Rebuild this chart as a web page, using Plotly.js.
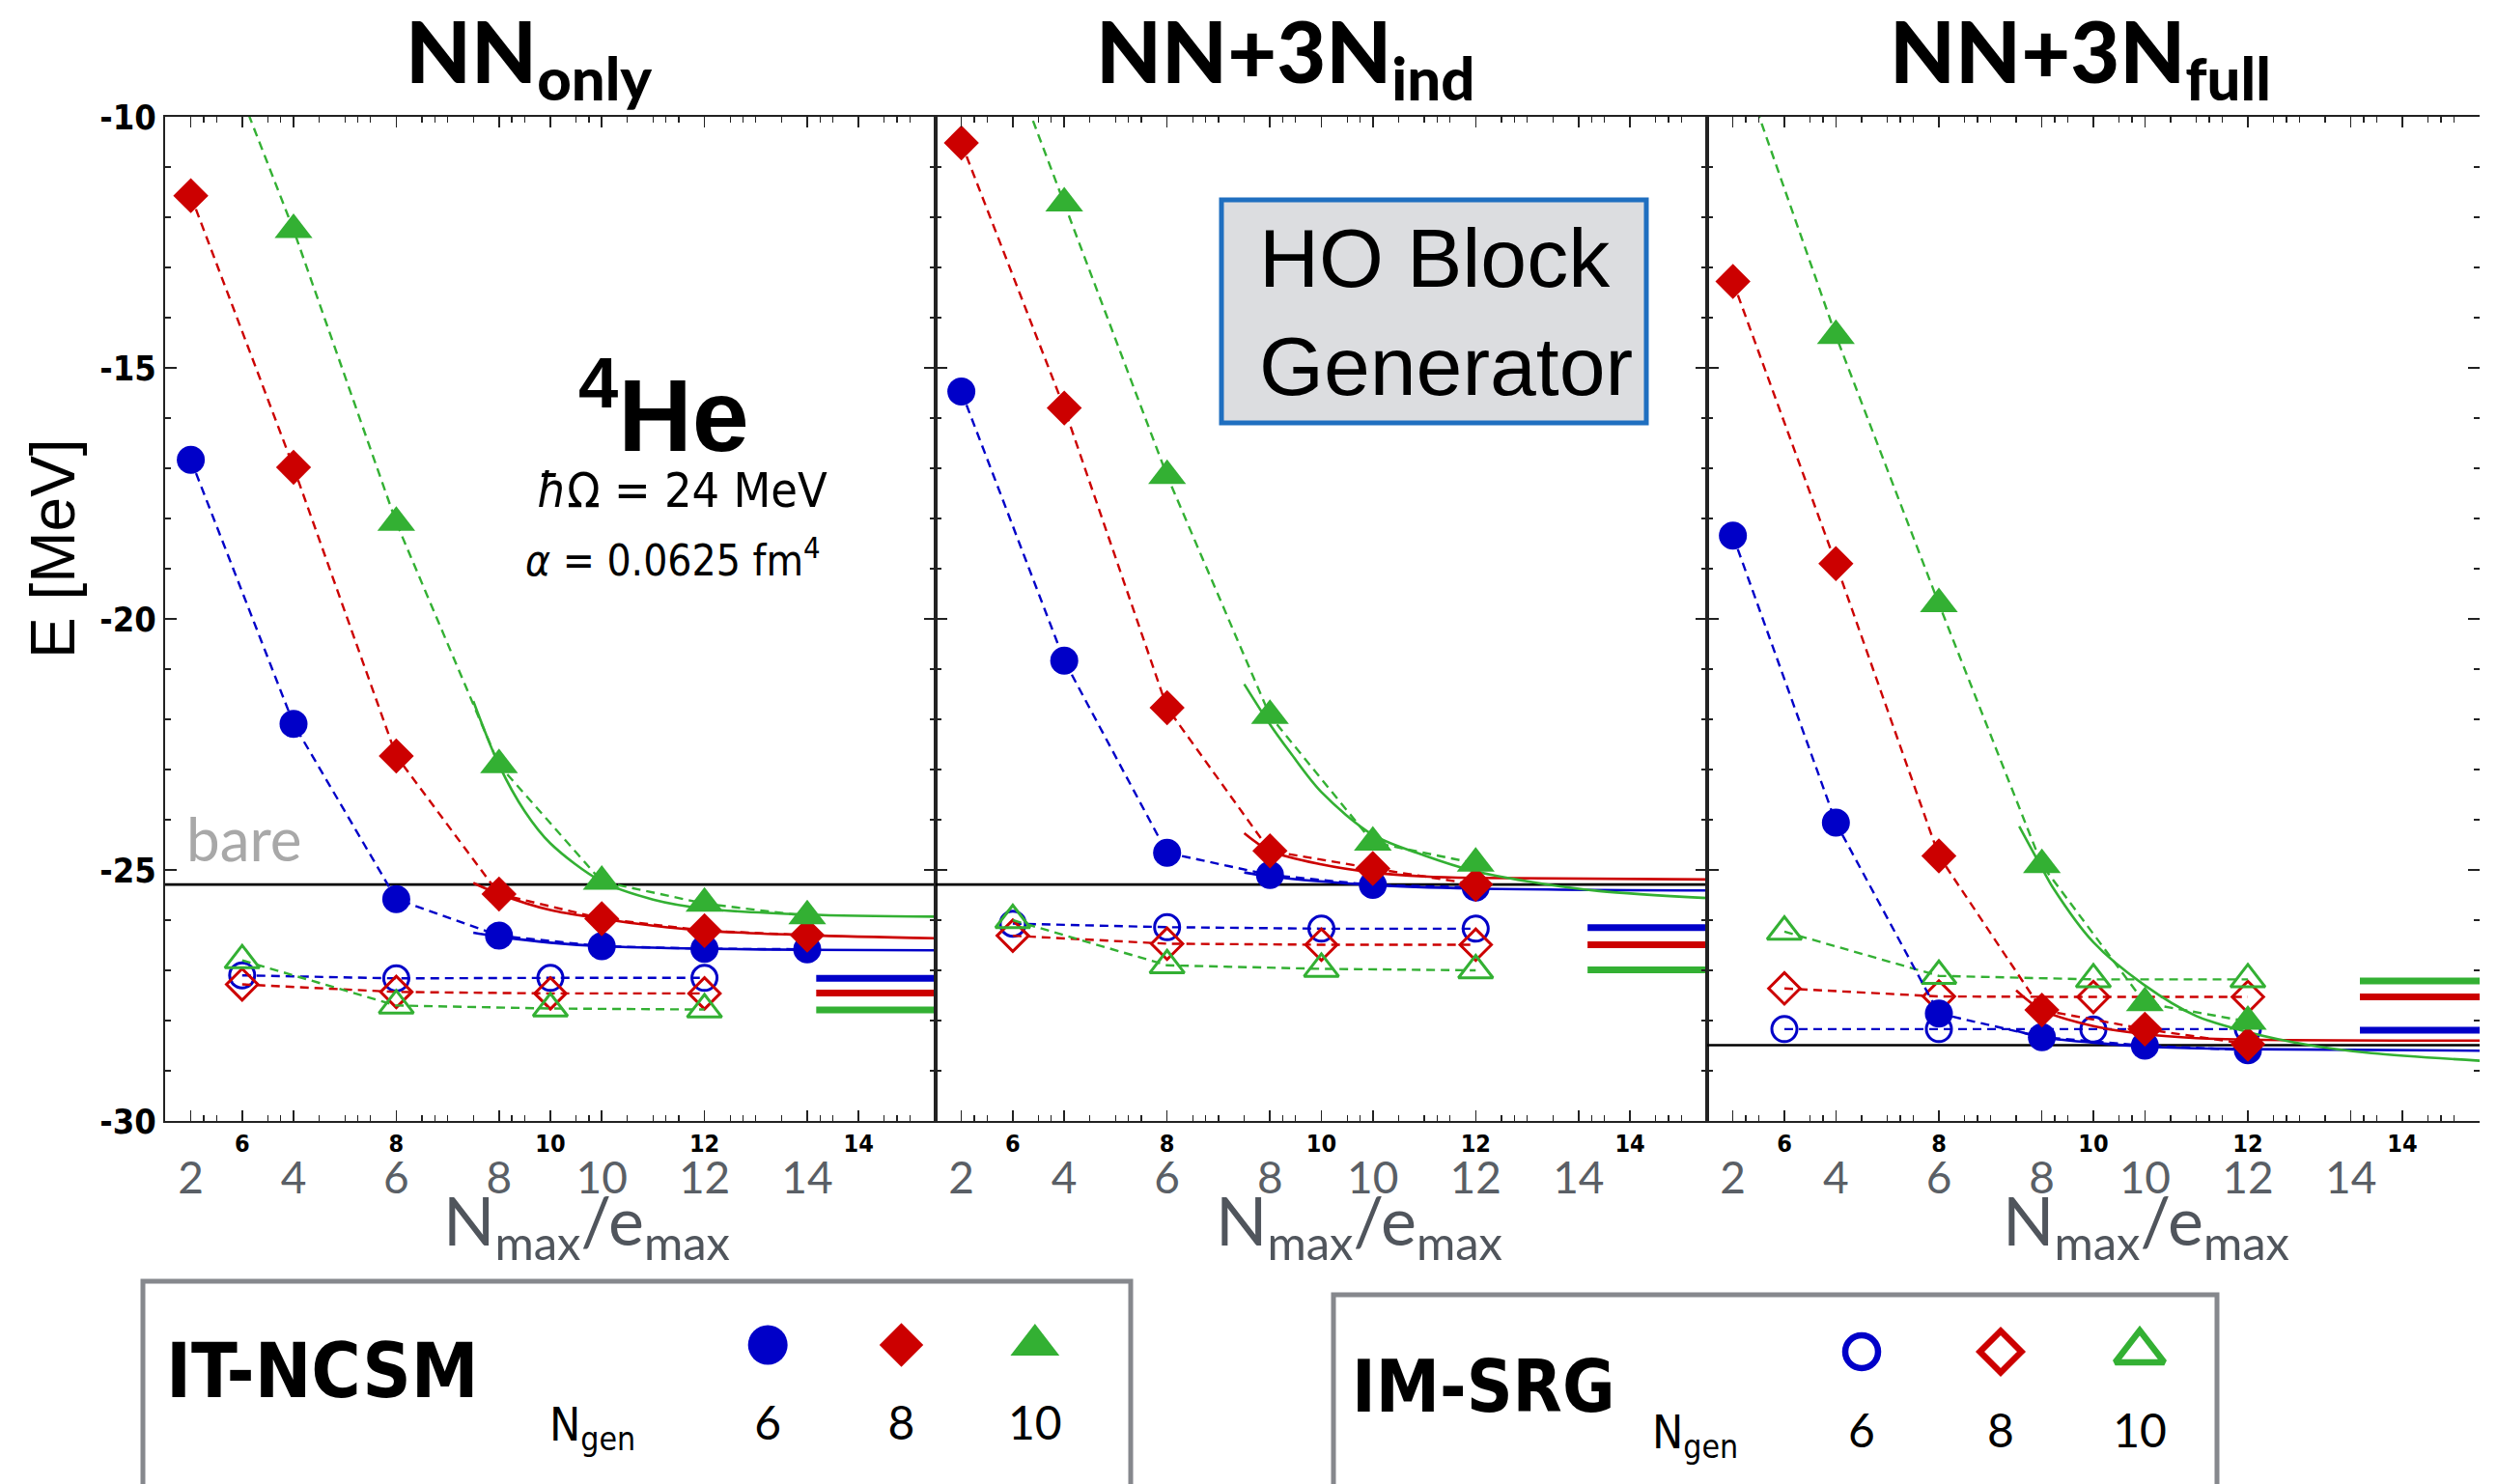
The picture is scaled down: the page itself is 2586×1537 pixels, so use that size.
<!DOCTYPE html>
<html><head><meta charset="utf-8">
<script src="https://cdn.plot.ly/plotly-3.0.1.min.js"></script>
<style>html,body{margin:0;padding:0;background:#fff;} #chart{width:2586px;height:1537px;}</style>
</head><body><div id="chart"></div>
<script>
// ---------------- data ----------------
const nmaxValues = [2, 4, 6, 8, 10, 12, 14];
const emaxValues = [6, 8, 10, 12];
const ngenLabels = ['6', '8', '10'];
const legendRow = [0, 0, 0];
const nmaxTicks = [2, 4, 6, 8, 10, 12, 14];
const emaxTicks = [6, 8, 10, 12, 14];
const yTicks = [-30, -25, -20, -15, -10];
const yTickText = ['-30', '-25', '-20', '-15', '-10'];
const panelTitles = ['NN<sub>only</sub>', 'NN+3N<sub>ind</sub>', 'NN+3N<sub>full</sub>'];

// IT-NCSM (filled), E [MeV] vs Nmax, for Ngen = 6, 8, 10
const ncsmNNonly6  = [-16.83, -22.09, -25.58, -26.31, -26.52, -26.57, -26.58];
const ncsmNNonly8  = [-11.57, -16.98, -22.73, -25.48, -25.97, -26.21, -26.30];
const ncsmNNonly10 = [-7.0, -12.25, -18.08, -22.91, -25.23, -25.67, -25.92];
const ncsmInd6  = [-15.47, -20.83, -24.66, -25.10, -25.30, -25.35];
const ncsmInd8  = [-10.52, -15.80, -21.77, -24.62, -24.97, -25.29];
const ncsmInd10 = [-6.3, -11.72, -17.15, -21.93, -24.45, -24.87];
const ncsmFull6  = [-18.34, -24.06, -27.86, -28.33, -28.50, -28.59];
const ncsmFull8  = [-13.28, -18.90, -24.72, -27.79, -28.17, -28.47];
const ncsmFull10 = [-8.5, -14.36, -19.70, -24.90, -27.65, -28.02];

// IM-SRG (open), E [MeV] vs emax
const imsrgNNonly6  = [-27.10, -27.16, -27.15, -27.15];
const imsrgNNonly8  = [-27.28, -27.43, -27.46, -27.46];
const imsrgNNonly10 = [-26.80, -27.70, -27.76, -27.78];
const imsrgInd6  = [-26.07, -26.14, -26.17, -26.17];
const imsrgInd8  = [-26.31, -26.47, -26.49, -26.49];
const imsrgInd10 = [-26.00, -26.90, -26.97, -27.00];
const imsrgFull6  = [-28.17, -28.17, -28.18, -28.17];
const imsrgFull8  = [-27.36, -27.52, -27.53, -27.53];
const imsrgFull10 = [-26.23, -27.11, -27.18, -27.18];

// converged IM-SRG values (thick bars at right), order Ngen 6, 8, 10
const convergedNNonly = [-27.16, -27.45, -27.79];
const convergedInd    = [-26.15, -26.49, -26.99];
const convergedFull   = [-28.19, -27.53, -27.21];
const convergedSpan = [13.45, 15];

// bare energies
const bareEnergy = [-25.29, -25.29, -28.49];
const bareSpan = [5, 15];

// extrapolation curves (Nmax, E)
const fitNNonly6N  = [7.5, 8, 9, 10, 12, 14, 16.5];
const fitNNonly6E  = [-26.25, -26.33, -26.45, -26.52, -26.57, -26.59, -26.60];
const fitNNonly8N  = [7.5, 8, 9, 10, 11, 12, 14, 16.5];
const fitNNonly8E  = [-25.26, -25.48, -25.80, -25.97, -26.11, -26.21, -26.30, -26.36];
const fitNNonly10N = [7.5, 8, 8.5, 9, 10, 11, 12, 14, 16.5];
const fitNNonly10E = [-21.64, -22.91, -23.83, -24.47, -25.23, -25.59, -25.77, -25.89, -25.93];
const fitInd6N  = [7.5, 8, 10, 12, 16.5];
const fitInd6E  = [-25.05, -25.13, -25.30, -25.37, -25.41];
const fitInd8N  = [7.5, 8, 9, 10, 11, 12, 16.5];
const fitInd8E  = [-24.27, -24.62, -24.89, -25.05, -25.13, -25.16, -25.19];
const fitInd10N = [7.5, 8, 8.4, 9, 10, 11, 12, 13.2, 14.4, 16.5];
const fitInd10E = [-21.3, -22.1, -22.67, -23.45, -24.30, -24.71, -25.03, -25.26, -25.42, -25.56];
const fitFull6N  = [7.5, 8, 9, 10, 12, 16.5];
const fitFull6E  = [-28.20, -28.33, -28.44, -28.52, -28.57, -28.60];
const fitFull8N  = [7.5, 8, 9, 10, 11, 12, 16.5];
const fitFull8E  = [-27.40, -27.79, -28.11, -28.27, -28.35, -28.38, -28.40];
const fitFull10N = [7.56, 8, 8.22, 9, 10, 11, 12, 13.2, 14.4, 16.5];
const fitFull10E = [-24.13, -24.96, -25.36, -26.44, -27.30, -27.91, -28.23, -28.49, -28.65, -28.80];

// ---------------- styling ----------------
const W = 2586, H = 1537;
const px = X => X / W;
const py = Y => 1 - Y / H;
const BLUE = '#0000C8', RED = '#CC0000', GREEN = '#33B033';
const colors = [BLUE, RED, GREEN];
const filledSymbols = ['circle', 'diamond', 'triangle-up'];
const filledSizes = [29, 28, 34];
const openSymbols = ['circle-open', 'diamond-open', 'triangle-up-open'];
const openSizes = [26, 25, 31];
const DASH = '9px,6px';
const NARROW = '"Liberation Sans Narrow", "DejaVu Sans Condensed", "Arial Narrow", sans-serif';
const GILL = 'Lato, "Open Sans", sans-serif';
const HELV = '"Liberation Sans", Arial, sans-serif';

const panels = [
  {ncsm: [ncsmNNonly6, ncsmNNonly8, ncsmNNonly10], imsrg: [imsrgNNonly6, imsrgNNonly8, imsrgNNonly10],
   conv: convergedNNonly, fitN: [fitNNonly6N, fitNNonly8N, fitNNonly10N], fitE: [fitNNonly6E, fitNNonly8E, fitNNonly10E]},
  {ncsm: [ncsmInd6, ncsmInd8, ncsmInd10], imsrg: [imsrgInd6, imsrgInd8, imsrgInd10],
   conv: convergedInd, fitN: [fitInd6N, fitInd8N, fitInd10N], fitE: [fitInd6E, fitInd8E, fitInd10E]},
  {ncsm: [ncsmFull6, ncsmFull8, ncsmFull10], imsrg: [imsrgFull6, imsrgFull8, imsrgFull10],
   conv: convergedFull, fitN: [fitFull6N, fitFull8N, fitFull10N], fitE: [fitFull6E, fitFull8E, fitFull10E]}
];

const xDomains = [[171, 969], [969, 1768], [1768, 2568]];
const yDomain = [py(1161), py(121)];

const traces = [];
panels.forEach((P, p) => {
  const xe = 'x' + (p + 1), xn = 'x' + (p + 4), ya = 'y' + (p + 1);
  // fits
  for (let c = 0; c < 3; c++) {
    traces.push({type: 'scatter', mode: 'lines', x: P.fitN[c], y: P.fitE[c], xaxis: xn, yaxis: ya,
      line: {color: colors[c], width: 2.6, shape: 'spline', smoothing: 0.9}, hoverinfo: 'skip', showlegend: false});
  }
  // IT-NCSM
  for (let c = 0; c < 3; c++) {
    const E = P.ncsm[c];
    traces.push({type: 'scatter', mode: 'lines+markers', x: nmaxValues.slice(0, E.length), y: E, xaxis: xn, yaxis: ya,
      line: {color: colors[c], width: 2.4, dash: DASH},
      marker: {color: colors[c], symbol: filledSymbols[c], size: filledSizes[c], opacity: 1, line: {width: 0}},
      hoverinfo: 'skip', showlegend: false});
  }
  // IM-SRG
  for (let c = 0; c < 3; c++) {
    traces.push({type: 'scatter', mode: 'lines+markers', x: emaxValues, y: P.imsrg[c], xaxis: xe, yaxis: ya,
      line: {color: colors[c], width: 2.4, dash: DASH},
      marker: {color: colors[c], symbol: openSymbols[c], size: openSizes[c], opacity: 1, line: {width: 3, color: colors[c]}},
      hoverinfo: 'skip', showlegend: false});
  }
  // converged bars
  for (let c = 0; c < 3; c++) {
    traces.push({type: 'scatter', mode: 'lines', x: convergedSpan, y: [P.conv[c], P.conv[c]], xaxis: xe, yaxis: ya,
      line: {color: colors[c], width: 7}, hoverinfo: 'skip', showlegend: false});
  }
  // bare
  traces.push({type: 'scatter', mode: 'lines', x: bareSpan, y: [bareEnergy[p], bareEnergy[p]], xaxis: xe, yaxis: ya,
    line: {color: '#000', width: 2.6}, hoverinfo: 'skip', showlegend: false});
});

// legend key traces
traces.push({type: 'scatter', mode: 'markers', x: ngenLabels, y: legendRow, xaxis: 'x8', yaxis: 'y8',
  marker: {symbol: filledSymbols, color: colors, size: [41, 35, 44], opacity: 1, line: {width: 0}}, hoverinfo: 'skip', showlegend: false});
traces.push({type: 'scatter', mode: 'markers', x: ngenLabels, y: legendRow, xaxis: 'x9', yaxis: 'y9',
  marker: {symbol: openSymbols, color: colors, size: [34, 33, 44], opacity: 1, line: {width: 6.5, color: colors}}, hoverinfo: 'skip', showlegend: false});

const layout = {
  width: W, height: H, margin: {l: 0, r: 0, t: 0, b: 0},
  paper_bgcolor: '#fff', plot_bgcolor: 'rgba(0,0,0,0)', showlegend: false,
  annotations: [], shapes: []
};

const tickCol = '#222';
for (let p = 0; p < 3; p++) {
  const d = [px(xDomains[p][0]), px(xDomains[p][1])];
  layout['xaxis' + (p + 1)] = {
    domain: d, range: [5, 15], anchor: 'y' + (p + 1), showline: true, linecolor: tickCol, linewidth: 2,
    mirror: 'ticks', ticks: 'inside', ticklen: 11, tickwidth: 1.5, tickcolor: tickCol,
    tickmode: 'array', tickvals: emaxTicks, ticktext: emaxTicks.map(String),
    minor: {tickmode: 'linear', tick0: 0, dtick: 0.5, ticklen: 6, ticks: 'inside', tickcolor: tickCol, tickwidth: 1.2},
    tickfont: {family: NARROW, size: 25, color: '#000', weight: 'bold'},
    showgrid: false, zeroline: false, fixedrange: true
  };
  layout['xaxis' + (p + 4)] = {
    overlaying: 'x' + (p + 1), anchor: 'y' + (p + 1), side: 'bottom', range: [1.5, 16.5],
    showline: false, mirror: 'ticks', ticks: 'inside', ticklen: 11, tickwidth: 1.5, tickcolor: tickCol,
    tickmode: 'array', tickvals: nmaxTicks, ticktext: nmaxTicks.map(String),
    minor: {tickmode: 'linear', tick0: 0, dtick: 0.5, ticklen: 6, ticks: 'inside', tickcolor: tickCol, tickwidth: 1.2},
    tickfont: {family: GILL, size: 46, color: '#5a5f66'}, ticklabelstandoff: 28,
    showgrid: false, zeroline: false, fixedrange: true
  };
  layout['yaxis' + (p + 1)] = {
    domain: yDomain, range: [-30, -10], anchor: 'x' + (p + 1), showline: true, linecolor: tickCol, linewidth: 2,
    mirror: p < 2 ? 'ticks' : false, ticks: 'inside', ticklen: 12, tickwidth: 1.5, tickcolor: tickCol,
    tickmode: 'array', tickvals: yTicks, ticktext: yTickText, showticklabels: p === 0,
    minor: {tickmode: 'linear', tick0: 0, dtick: 1, ticklen: 6, ticks: 'inside', tickcolor: tickCol, tickwidth: 1.2},
    tickfont: {family: NARROW, size: 36, color: '#000', weight: 'bold'},
    showgrid: false, zeroline: false, fixedrange: true
  };
}
layout.yaxis7 = {
  overlaying: 'y3', anchor: 'x3', side: 'right', range: [-30, -10], showline: false,
  ticks: 'inside', ticklen: 12, tickwidth: 1.5, tickcolor: tickCol, tickmode: 'array', tickvals: yTicks,
  showticklabels: false,
  minor: {tickmode: 'linear', tick0: 0, dtick: 1, ticklen: 6, ticks: 'inside', tickcolor: tickCol, tickwidth: 1.2},
  showgrid: false, zeroline: false, fixedrange: true
};
traces.push({type: 'scatter', mode: 'markers', x: [], y: [], xaxis: 'x3', yaxis: 'y7', hoverinfo: 'skip', showlegend: false});

// legend axes
layout.xaxis8 = {domain: [px(726), px(1141)], anchor: 'y8', type: 'category', range: [-0.5, 2.5],
  showline: false, ticks: '', showgrid: false, zeroline: false, fixedrange: true,
  tickfont: {family: GILL, size: 48, color: '#000'}, ticklabelstandoff: 2};
layout.yaxis8 = {domain: [py(1440), py(1346)], range: [-1, 1], visible: false, fixedrange: true};
layout.xaxis9 = {domain: [px(1856), px(2288)], anchor: 'y9', type: 'category', range: [-0.5, 2.5],
  showline: false, ticks: '', showgrid: false, zeroline: false, fixedrange: true,
  tickfont: {family: GILL, size: 48, color: '#000'}, ticklabelstandoff: 2};
layout.yaxis9 = {domain: [py(1448), py(1352)], range: [-1, 1], visible: false, fixedrange: true};

const ann = layout.annotations;
const A = (o) => ann.push(Object.assign({xref: 'paper', yref: 'paper', showarrow: false}, o));

// panel titles
const titleX = [547, 1331, 2154];
panelTitles.forEach((t, i) => A({text: t, x: px(titleX[i]), y: py(58), xanchor: 'center', yanchor: 'middle',
  font: {family: GILL, size: 88, color: '#000', weight: 900}}));
// axis titles
const axTitleX = [607, 1407, 2222];
axTitleX.forEach(X => A({text: 'N<sub>max</sub>/e<sub>max</sub>', x: px(X), y: py(1268), xanchor: 'center', yanchor: 'middle',
  font: {family: GILL, size: 70, color: '#50555c'}}));
A({text: 'E [MeV]', x: px(55), y: py(568), textangle: -90, xanchor: 'center', yanchor: 'middle',
  font: {family: HELV, size: 64, color: '#000'}});
// 4He text
A({text: '<sup>4</sup>He', x: px(687), y: py(422), xanchor: 'center', yanchor: 'middle',
  font: {family: HELV, size: 106, color: '#000', weight: 'bold'}});
A({text: '<i>ħ</i>Ω = 24 MeV', x: px(706), y: py(508), xanchor: 'center', yanchor: 'middle',
  font: {family: NARROW, size: 50, color: '#000'}});
A({text: '<i>α</i> = 0.0625 fm<sup>4</sup>', x: px(697), y: py(578), xanchor: 'center', yanchor: 'middle',
  font: {family: NARROW, size: 44, color: '#000'}});
A({text: 'bare', x: px(253), y: py(868), xanchor: 'center', yanchor: 'middle',
  font: {family: GILL, size: 62, color: '#a8a8a8'}});
// HO block generator box
layout.shapes.push({type: 'rect', xref: 'paper', yref: 'paper', x0: px(1265), x1: px(1705), y0: py(438), y1: py(207),
  fillcolor: '#dcdde0', line: {color: '#1f6fc0', width: 5}, layer: 'above'});
A({text: 'HO Block<br>Generator', x: px(1302), y: py(323), xanchor: 'left', yanchor: 'middle', align: 'left',
  font: {family: HELV, size: 86, color: '#000'}});
// legends
layout.shapes.push({type: 'rect', xref: 'paper', yref: 'paper', x0: px(148), x1: px(1171), y0: py(1600), y1: py(1327),
  fillcolor: 'rgba(0,0,0,0)', line: {color: '#86888d', width: 5}});
layout.shapes.push({type: 'rect', xref: 'paper', yref: 'paper', x0: px(1381), x1: px(2296), y0: py(1600), y1: py(1341),
  fillcolor: 'rgba(0,0,0,0)', line: {color: '#86888d', width: 5}});
A({text: 'IT-NCSM', x: px(170), y: py(1420), xanchor: 'left', yanchor: 'middle',
  font: {family: NARROW, size: 78, color: '#000', weight: 'bold'}});
A({text: 'N<sub>gen</sub>', x: px(613), y: py(1478), xanchor: 'center', yanchor: 'middle',
  font: {family: NARROW, size: 48, color: '#000'}});
A({text: 'IM-SRG', x: px(1398), y: py(1436), xanchor: 'left', yanchor: 'middle',
  font: {family: NARROW, size: 74, color: '#000', weight: 'bold'}});
A({text: 'N<sub>gen</sub>', x: px(1755), y: py(1486), xanchor: 'center', yanchor: 'middle',
  font: {family: NARROW, size: 48, color: '#000'}});

Plotly.newPlot('chart', traces, layout, {staticPlot: true, displayModeBar: false});
</script></body></html>
